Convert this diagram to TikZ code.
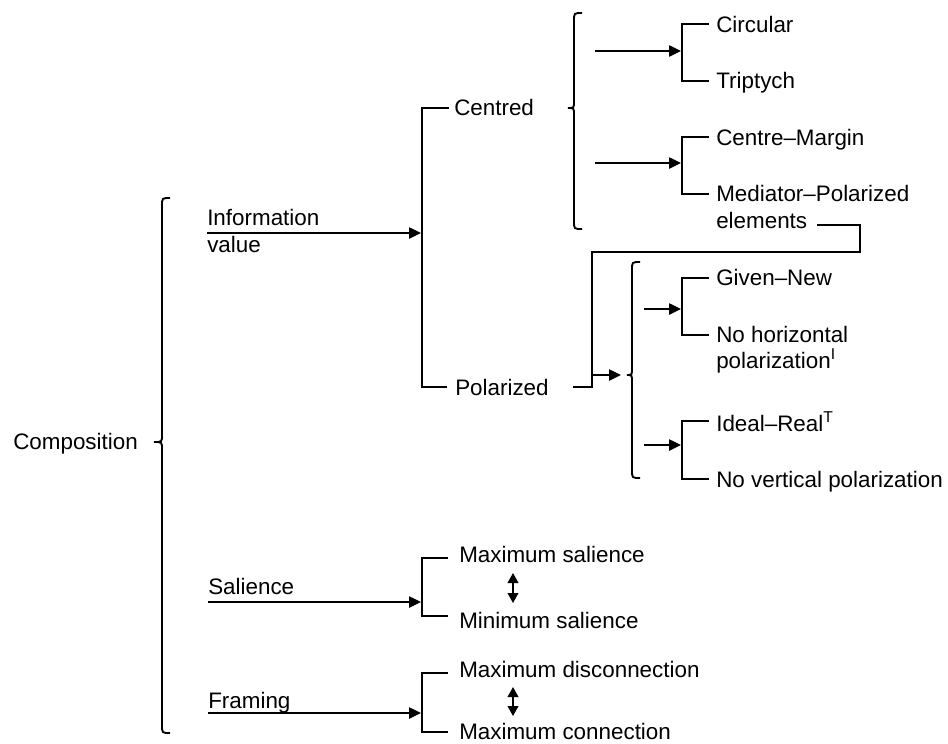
\documentclass[tikz,border=0pt]{standalone}
\usepackage{fontspec}
\setmainfont{Liberation Sans}
\usetikzlibrary{arrows.meta}
\tikzset{
  lbl/.style={anchor=base west, inner sep=0pt, font=\fontsize{16.8pt}{20.25pt}\selectfont},
  ln/.style={line width=1.05pt},
  arr/.style={line width=1.05pt, -{Triangle[length=9pt,width=8.5pt]}},
  dbl/.style={line width=1.3pt, {Triangle[length=7.5pt,width=8pt]}-{Triangle[length=7.5pt,width=8pt]}},
  brc/.style={line width=1.4pt},
}
\newcommand{\mybrace}[5]{%
  \draw[brc] (#1+8,#2) .. controls (#1,#2) .. (#1,#2+8) -- (#1,#3-7)
    .. controls (#1,#3) .. (#5,#3) .. controls (#1,#3) .. (#1,#3+7)
    -- (#1,#4-8) .. controls (#1,#4) .. (#1+8,#4);}
\begin{document}
\begin{tikzpicture}[x=0.75pt,y=-0.75pt]
\useasboundingbox (0,0) rectangle (948,743);

% ---- texts
\node[lbl] (comp) at (13,449) {Composition};
\node[lbl] (info) at (207,225) {Information};
\node[lbl] (infob) at (207,252) {value};
\node[lbl] (cen) at (454,115) {Centred};
\node[lbl] (pol) at (455,395) {Polarized};
\node[lbl] (circ) at (716,32) {Circular};
\node[lbl] (trip) at (716,88) {Triptych};
\node[lbl] (cm) at (716,145) {Centre–Margin};
\node[lbl] (mp) at (716,201) {Mediator–Polarized};
\node[lbl] (mpb) at (716,228) {elements};
\node[lbl] (gn) at (716,285) {Given–New};
\node[lbl] (nh) at (716,342) {No horizontal};
\node[lbl] (nhb) at (716,368) {polarization\textsuperscript{I}};
\node[lbl] (ir) at (716,431) {Ideal–Real\textsuperscript{T}};
\node[lbl] (nv) at (716,487) {No vertical polarization};
\node[lbl] (sal) at (208,594) {Salience};
\node[lbl] (maxs) at (459,562) {Maximum salience};
\node[lbl] (mins) at (459,628) {Minimum salience};
\node[lbl] (fra) at (208,708) {Framing};
\node[lbl] (maxd) at (459,677) {Maximum disconnection};
\node[lbl] (maxc) at (459,739) {Maximum connection};

% ---- coordinates of the connectors
\coordinate (iaS) at (207,233);  \coordinate (iaE) at (421,233);
\coordinate (cenL) at (449,108); \coordinate (polL) at (447,387);
\coordinate (polR) at (573,387); \coordinate (jn) at (592,387);
\coordinate (jA) at (592,375);   \coordinate (jB) at (621,375);
\coordinate (elR) at (817,225);
\coordinate (c1s) at (595,51);   \coordinate (c1e) at (681,51);
\coordinate (c2s) at (595,163);  \coordinate (c2e) at (681,163);
\coordinate (p1s) at (644,309);  \coordinate (p1e) at (681,309);
\coordinate (p2s) at (644,445);  \coordinate (p2e) at (681,445);
\coordinate (ssS) at (208,602);  \coordinate (ssE) at (421,602);
\coordinate (ffS) at (208,713);  \coordinate (ffE) at (421,713);

% ---- big brace
\mybrace{162}{198}{442}{733}{154}

% ---- information value
\draw[arr] (iaS) -- (iaE);
\draw[ln] (cenL) -- (422,108) -- (422,387) -- (polL);

% ---- centred
\mybrace{574}{13}{108}{229}{568}
\draw[arr] (c1s) -- (c1e);
\draw[arr] (c2s) -- (c2e);
\draw[ln] (709,24) -- (682,24) -- (682,81) -- (709,81);
\draw[ln] (709,137) -- (682,137) -- (682,194) -- (709,194);

% ---- link from elements to polarized
\draw[ln] (elR) -- (860,225) -- (860,252) -- (592,252) -- (jn) -- (polR);
\draw[arr] (jA) -- (jB);

% ---- polarized
\mybrace{632}{262}{375}{478}{627}
\draw[arr] (p1s) -- (p1e);
\draw[arr] (p2s) -- (p2e);
\draw[ln] (709,278) -- (682,278) -- (682,335) -- (709,335);
\draw[ln] (709,421) -- (682,421) -- (682,479) -- (709,479);

% ---- salience
\draw[arr] (ssS) -- (ssE);
\draw[ln] (448,558) -- (422,558) -- (422,616) -- (448,616);
\draw[dbl] (513,573) -- (513,603);

% ---- framing
\draw[arr] (ffS) -- (ffE);
\draw[ln] (448,673) -- (422,673) -- (422,732) -- (448,732);
\draw[dbl] (513,687) -- (513,716);
\end{tikzpicture}
\end{document}
